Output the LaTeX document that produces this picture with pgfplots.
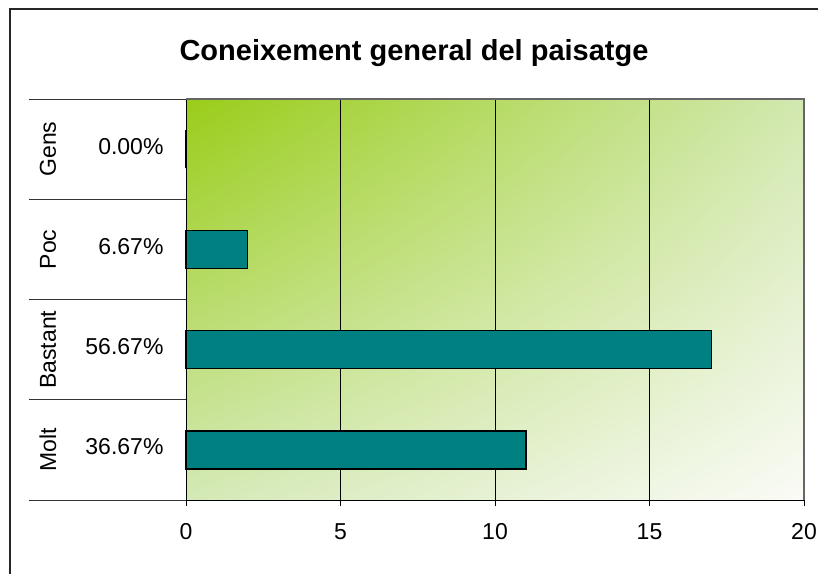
\documentclass[border=0pt]{standalone}
\usepackage{fontspec}
\setmainfont{Liberation Sans}
\usepackage{pgfplots}
\pgfplotsset{compat=1.18}
\usetikzlibrary{shadings}
\definecolor{gTL}{RGB}{154,205,25}
\definecolor{gTR}{RGB}{210,232,176}
\definecolor{gBL}{RGB}{212,233,182}
\definecolor{gBR}{RGB}{250,251,246}
\definecolor{barteal}{RGB}{0,128,128}
\begin{document}
\begin{tikzpicture}[x=1pt,y=1pt]
\useasboundingbox (0,0) rectangle (818,-574);
\fill[white] (0,0) rectangle (818,-574);
\draw[line width=1.6pt, color=black!85] (10,-574) -- (10,-9) -- (818,-9);
\node[font=\bfseries\fontsize{29}{33}\selectfont] at (414,-53) {Coneixement general del paisatge};
\begin{axis}[
  at={(186pt,-500pt)}, anchor=south west,
  scale only axis, width=618pt, height=401pt,
  xmin=0, xmax=20, ymin=0.5, ymax=4.5,
  xtick={0,5,10,15,20},
  ytick=\empty,
  xmajorgrids, grid style={black, line width=0.8pt},
  tick align=outside, major tick length=6pt,
  xtick style={black, line width=0.8pt},
  axis line style={black, line width=1pt},
  axis x line*=bottom, axis y line*=left,
  axis background/.style={shade, upper left=gTL, upper right=gTR, lower left=gBL, lower right=gBR},
  xticklabel style={font=\fontsize{23}{27}\selectfont, yshift=-14pt},
  /pgf/number format/assume math mode=true,
  clip=false,
]
\addplot[xbar, bar width=38pt, fill=barteal, draw=black, line width=1.3pt]
  coordinates {(11,1) (17,2) (2,3) (0,4)};
\draw[gray!80!black, line width=1.5pt] (axis cs:0,4.5) -- (axis cs:20,4.5) -- (axis cs:20,0.5);
\draw[black!80, line width=1pt] ([xshift=-157pt]axis cs:0,0.5) -- (axis cs:0,0.5);
\draw[black!80, line width=1pt] ([xshift=-157pt]axis cs:0,1.5) -- (axis cs:0,1.5);
\draw[black!80, line width=1pt] ([xshift=-157pt]axis cs:0,2.5) -- (axis cs:0,2.5);
\draw[black!80, line width=1pt] ([xshift=-157pt]axis cs:0,3.5) -- (axis cs:0,3.5);
\draw[black!80, line width=1pt] ([xshift=-157pt]axis cs:0,4.5) -- (axis cs:0,4.5);
\node[rotate=90, font=\fontsize{23}{27}\selectfont] at ([xshift=-138pt]axis cs:0,4) {Gens};
\node[rotate=90, font=\fontsize{23}{27}\selectfont] at ([xshift=-138pt]axis cs:0,3) {Poc};
\node[rotate=90, font=\fontsize{23}{27}\selectfont] at ([xshift=-138pt]axis cs:0,2) {Bastant};
\node[rotate=90, font=\fontsize{23}{27}\selectfont] at ([xshift=-138pt]axis cs:0,1) {Molt};
\node[anchor=east, font=\fontsize{23}{27}\selectfont] at ([xshift=-19pt,yshift=3pt]axis cs:0,4) {0.00\%};
\node[anchor=east, font=\fontsize{23}{27}\selectfont] at ([xshift=-19pt,yshift=3pt]axis cs:0,3) {6.67\%};
\node[anchor=east, font=\fontsize{23}{27}\selectfont] at ([xshift=-19pt,yshift=3pt]axis cs:0,2) {56.67\%};
\node[anchor=east, font=\fontsize{23}{27}\selectfont] at ([xshift=-19pt,yshift=3pt]axis cs:0,1) {36.67\%};
\end{axis}
\end{tikzpicture}
\end{document}
